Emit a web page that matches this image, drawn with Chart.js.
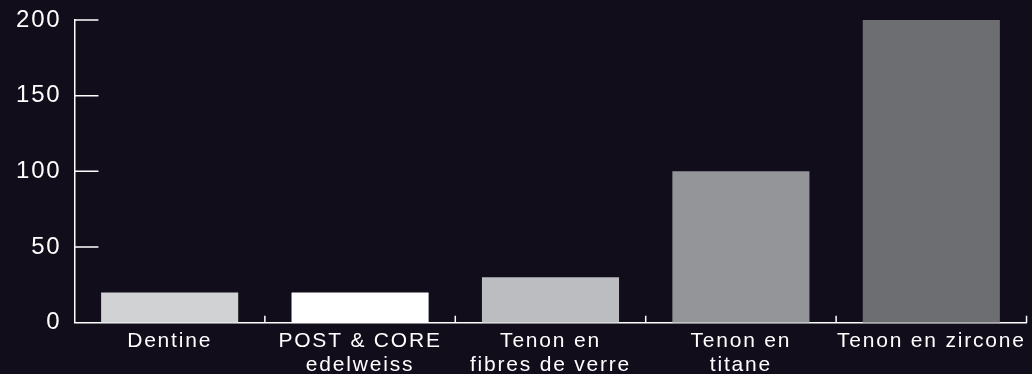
<!DOCTYPE html>
<html>

<head>
    <title>Tenons</title>
    <script src="https://cdn.jsdelivr.net/npm/chart.js"></script>
    <style>
        body { margin: 0; background: #110d1a; }
        #wrap { width: 1032px; height: 374px; position: relative; }
    </style>
</head>

<body>
    <div id="wrap"><canvas id="barChart"></canvas></div>

    <script>
        // data
        const categories = [
            'Dentine',
            ['POST & CORE', 'edelweiss'],
            ['Tenon en', 'fibres de verre'],
            ['Tenon en', 'titane'],
            'Tenon en zircone'
        ];
        const values = [20, 20, 30, 100, 200];
        const barColors = ['#d1d2d4', '#ffffff', '#bcbdc0', '#939598', '#6d6e71'];
        const yTicks = [0, 50, 100, 150, 200];

        // the original text is a bit tracked out
        const spacing = {
            id: 'spacing',
            beforeUpdate(chart) { chart.ctx.letterSpacing = '1.8px'; },
            beforeLayout(chart) { chart.ctx.letterSpacing = '1.8px'; },
            beforeDraw(chart) { chart.ctx.letterSpacing = '1.8px'; }
        };

        // small tick marks pointing into the plot, like the original
        const innerTicks = {
            id: 'innerTicks',
            afterDraw(chart) {
                const c = chart.ctx;
                const area = chart.chartArea;
                const x = chart.scales.x;
                const y = chart.scales.y;
                c.save();
                c.strokeStyle = '#ffffff';
                c.lineWidth = 1.5;
                c.beginPath();
                y.ticks.forEach((t, i) => {
                    if (i === 0) return;
                    const py = y.getPixelForTick(i);
                    c.moveTo(area.left, py);
                    c.lineTo(area.left + 24, py);
                });
                for (let i = 1; i <= categories.length; i++) {
                    const px = x.getPixelForValue(i - 0.5);
                    c.moveTo(px, area.bottom);
                    c.lineTo(px, area.bottom - 7);
                }
                c.stroke();
                c.restore();
            }
        };

        const ctx = document.getElementById('barChart').getContext('2d');
        const chart = new Chart(ctx, {
            type: 'bar',
            data: {
                labels: categories,
                datasets: [{
                    data: values,
                    backgroundColor: barColors,
                    borderWidth: 0,
                    categoryPercentage: 1,
                    barPercentage: 0.72
                }]
            },
            options: {
                responsive: true,
                maintainAspectRatio: false,
                animation: false,
                layout: { padding: { top: 0, right: 3, left: 3, bottom: -9 } },
                plugins: {
                    legend: { display: false },
                    tooltip: { enabled: false }
                },
                scales: {
                    x: {
                        grid: { display: false, drawTicks: false },
                        border: { display: true, color: '#ffffff', width: 1.5 },
                        ticks: {
                            color: '#ffffff',
                            padding: 6,
                            maxRotation: 0,
                            autoSkip: false,
                            font: { family: 'Liberation Sans', size: 21, lineHeight: 1.15 }
                        }
                    },
                    y: {
                        min: 0,
                        max: 200,
                        afterBuildTicks: (scale) => {
                            scale.ticks = yTicks.map(v => ({ value: v }));
                        },
                        grid: { display: false, drawTicks: false },
                        border: { display: true, color: '#ffffff', width: 1.5 },
                        ticks: {
                            color: '#ffffff',
                            padding: 13,
                            font: { family: 'Liberation Sans', size: 24, lineHeight: 0.58 }
                        }
                    }
                }
            },
            plugins: [spacing, innerTicks]
        });
    </script>
</body>

</html>
